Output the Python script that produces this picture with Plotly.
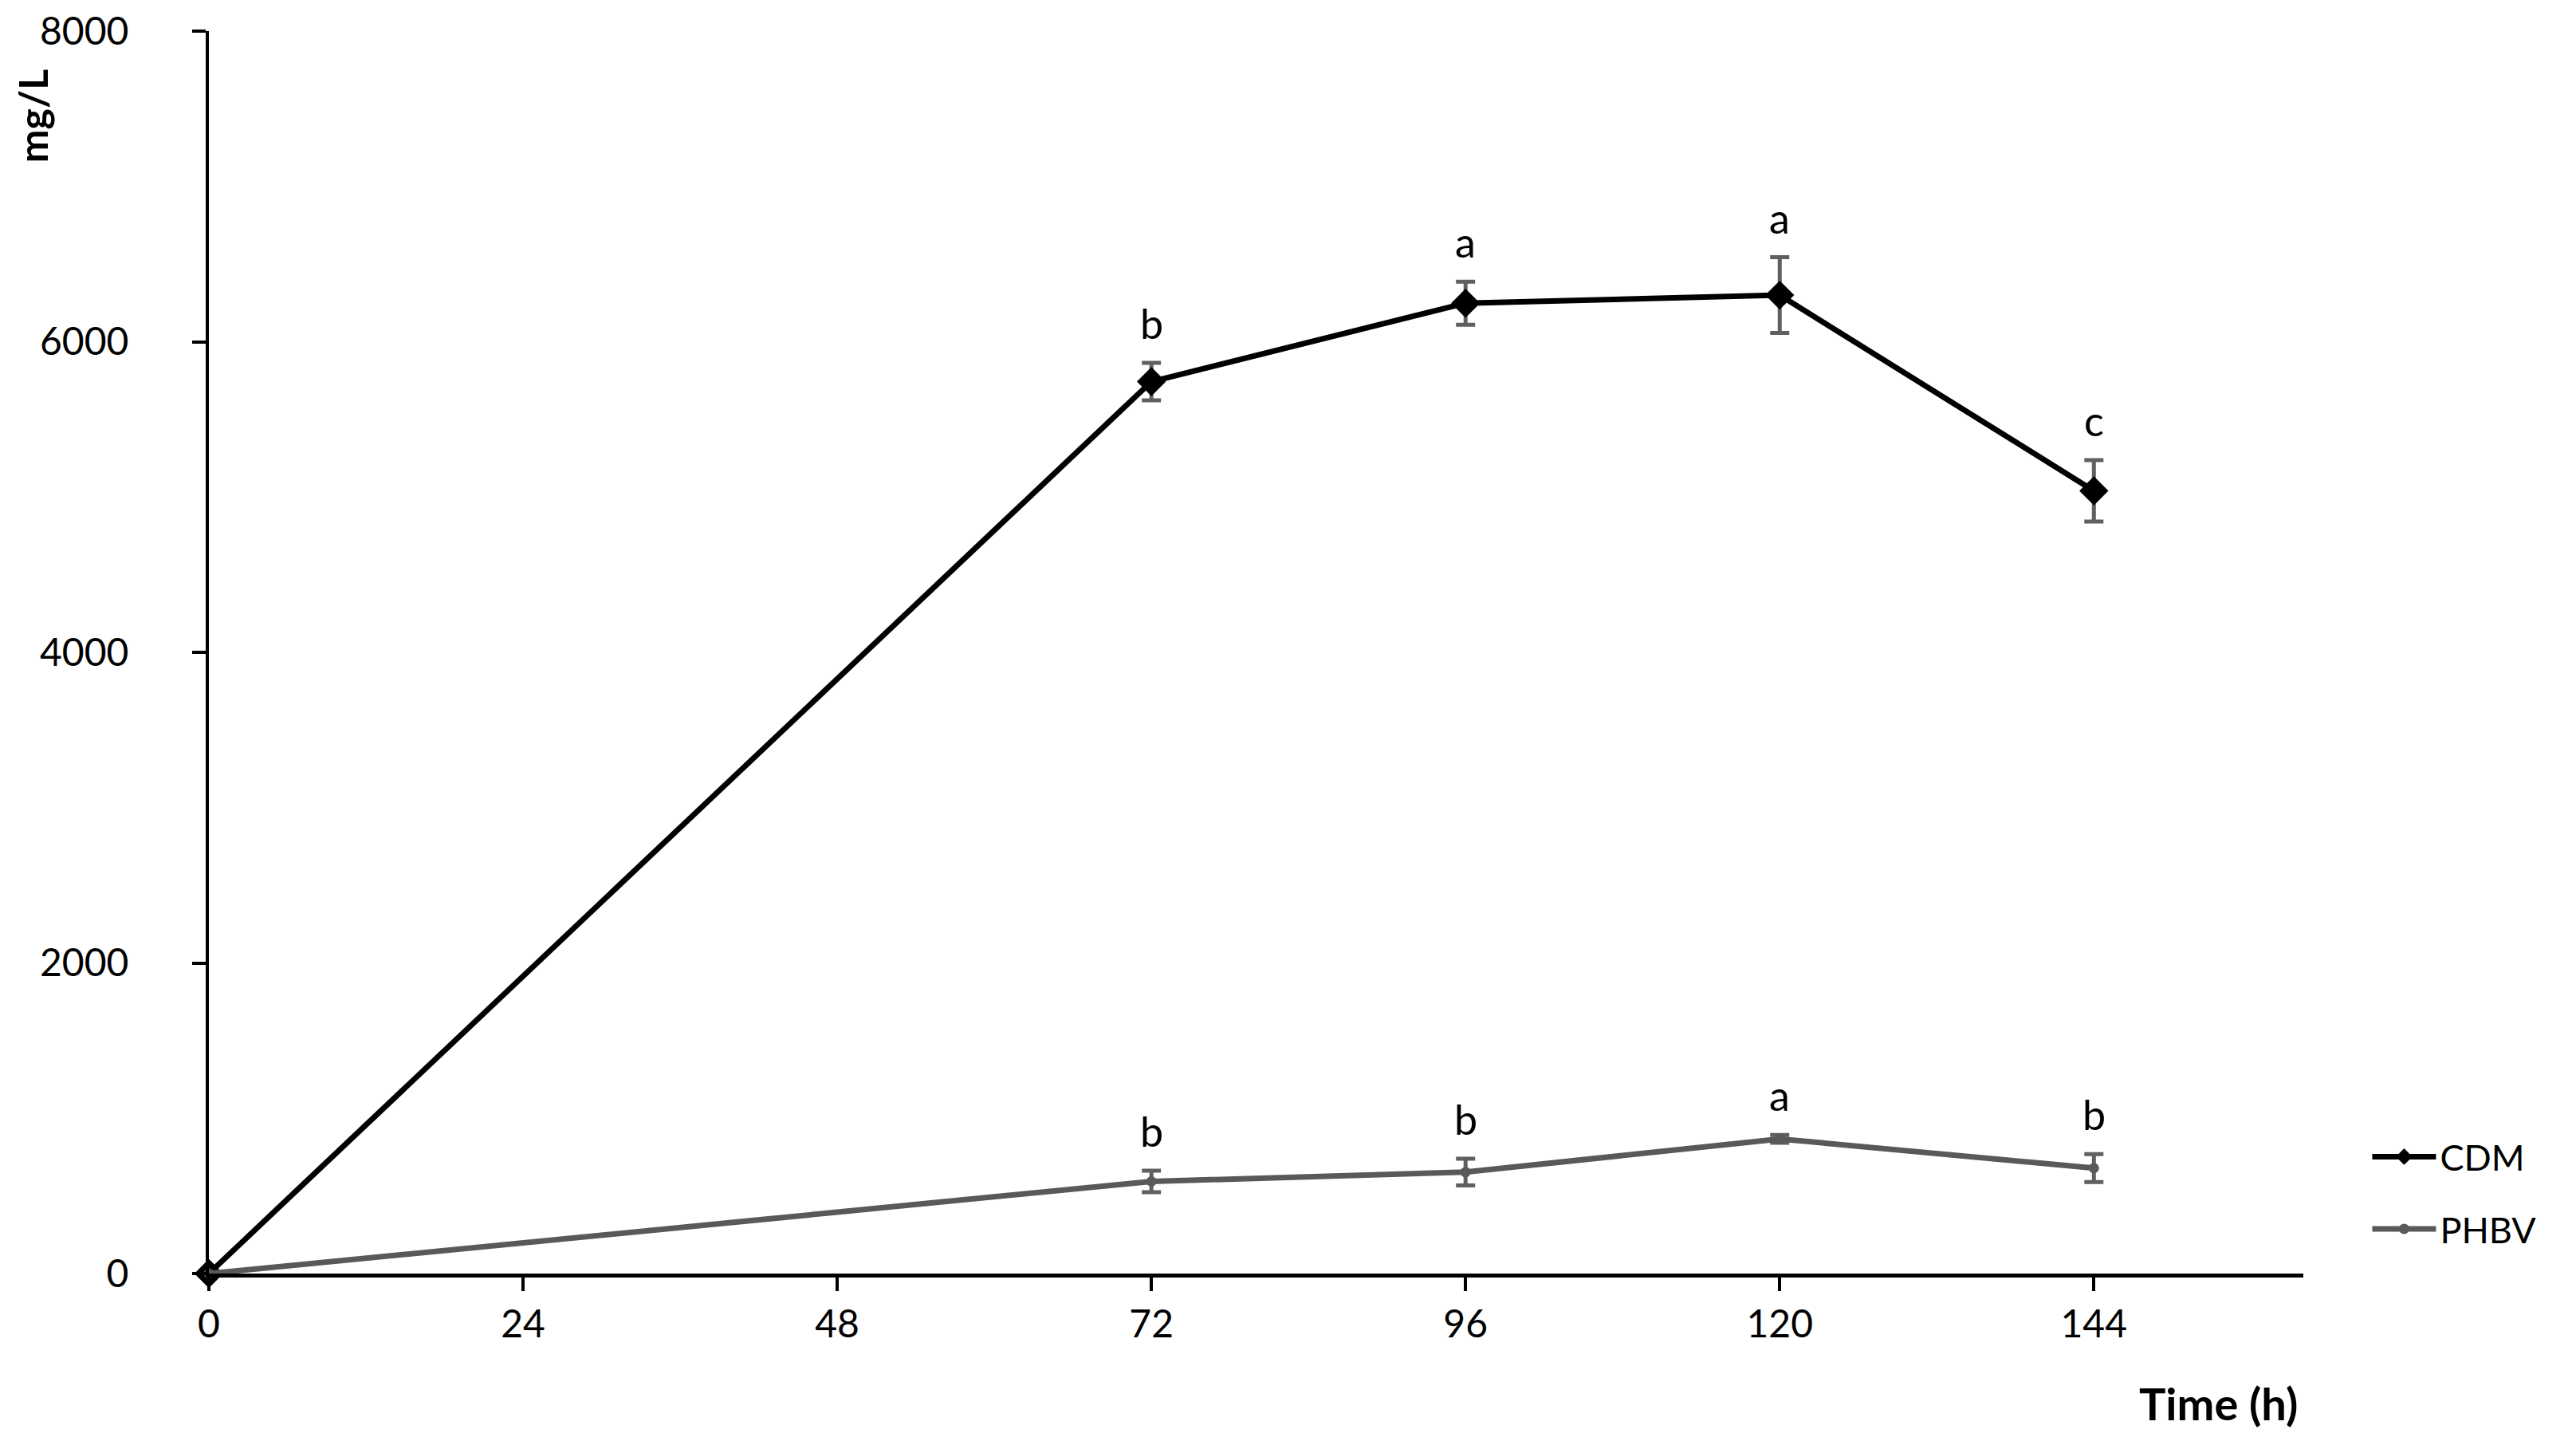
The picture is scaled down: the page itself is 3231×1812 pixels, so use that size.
import plotly.graph_objects as go

# ---- data ----
time_h = [0, 72, 96, 120, 144]
cdm = [0, 5743, 6248, 6300, 5040]
cdm_err = [0, 121, 139, 244, 198]
cdm_letters = ["", "b", "a", "a", "c"]
phbv = [0, 593, 653, 867, 679]
phbv_err = [0, 69, 86, 25, 90]
phbv_letters = ["", "b", "b", "a", "b"]
x_ticks = [0, 24, 48, 72, 96, 120, 144]
y_ticks = [0, 2000, 4000, 6000, 8000]

FONT = "Lato"
ERR_COLOR = "#606060"

fig = go.Figure()

fig.add_trace(go.Scatter(
    x=time_h, y=cdm, name="CDM", mode="lines+markers",
    line=dict(color="#000000", width=7),
    marker=dict(symbol="diamond", size=28, color="#000000"),
    error_y=dict(type="data", array=cdm_err, visible=True,
                 color=ERR_COLOR, thickness=5, width=12),
    cliponaxis=False, legendgroup="cdm",
))
fig.add_trace(go.Scatter(
    x=time_h, y=phbv, name="PHBV", mode="lines+markers",
    line=dict(color="#595959", width=7),
    marker=dict(symbol="circle", size=13, color="#595959"),
    error_y=dict(type="data", array=phbv_err, visible=True,
                 color=ERR_COLOR, thickness=5, width=12),
    cliponaxis=False, legendgroup="phbv",
))

# significance letters above error bars
for xs, ys, es, ls in [(time_h, cdm, cdm_err, cdm_letters),
                       (time_h, phbv, phbv_err, phbv_letters)]:
    for xv, yv, ev, lt in zip(xs, ys, es, ls):
        if lt:
            fig.add_annotation(x=xv, y=yv + ev, text=lt, showarrow=False,
                               yanchor="bottom", yshift=17,
                               font=dict(family=FONT, size=52, color="#000000"))

# axis titles
fig.add_annotation(xref="paper", yref="paper", x=0.998, y=-0.104, xanchor="right",
                   yanchor="middle", text="<b>Time (h)</b>", showarrow=False,
                   font=dict(family=FONT, size=56, color="#000000"))
fig.add_annotation(xref="paper", yref="paper", x=-0.084, y=0.932, xanchor="center",
                   yanchor="middle", text="<b>mg/L</b>", showarrow=False, textangle=-90,
                   font=dict(family=FONT, size=50, color="#000000"))

fig.update_xaxes(
    range=[0, 160], tickvals=x_ticks, ticktext=[str(v) for v in x_ticks],
    showline=True, linecolor="#000000", linewidth=5,
    ticks="outside", ticklen=17, tickwidth=4, tickcolor="#000000",
    showgrid=False, zeroline=False,
    tickfont=dict(family=FONT, size=48, color="#000000"),
    ticklabelstandoff=0,
)
fig.update_yaxes(
    range=[0, 8000], tickvals=y_ticks, ticktext=[str(v) for v in y_ticks],
    showline=True, linecolor="#000000", linewidth=4,
    ticks="outside", ticklen=17, tickwidth=4, tickcolor="#000000",
    showgrid=False, zeroline=False,
    tickfont=dict(family=FONT, size=48, color="#000000"),
    ticklabelstandoff=70,
)

fig.update_layout(
    width=3223, height=1804,
    margin=dict(l=254, r=342, t=31, b=215, autoexpand=False),
    plot_bgcolor="#ffffff", paper_bgcolor="#ffffff",
    font=dict(family=FONT, color="#000000"),
    showlegend=True,
    legend=dict(x=1.031, y=0.117, xanchor="left", yanchor="top",
                font=dict(family=FONT, size=45, color="#000000"),
                itemwidth=80, tracegroupgap=29, bgcolor="rgba(0,0,0,0)"),
)

fig.write_html("out.html")
